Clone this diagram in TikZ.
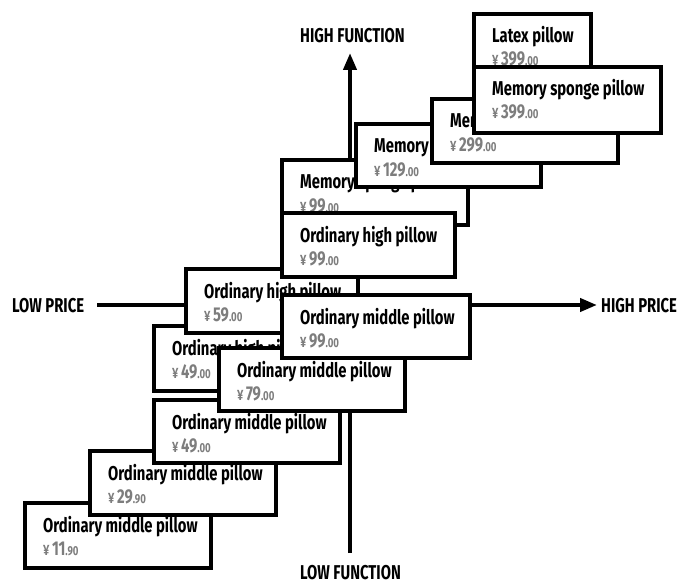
\documentclass[tikz,border=0pt]{standalone}
\usepackage{fontspec}
\usetikzlibrary{arrows.meta}
\newfontfamily\condfont{Fira Sans}[FakeStretch=0.74]
\definecolor{pricegrey}{RGB}{125,125,125}
\tikzset{
  pbox/.style={draw=black, line width=4pt, fill=white, rectangle, inner sep=0pt, outer sep=0pt, anchor=north west},
  ptitle/.style={font=\condfont\bfseries\fontsize{20}{20}\selectfont, text=black, inner sep=0pt, anchor=base west},
  pprice/.style={font=\condfont\bfseries, text=pricegrey, inner sep=0pt, anchor=base west},
  axislabel/.style={font=\condfont\bfseries\fontsize{20}{20}\selectfont, inner sep=0pt, anchor=base west},
  axisline/.style={line width=4pt, -{Triangle[length=17pt,width=13pt]}},
}
% #1 name, #2 left, #3 top, #4 width, #5 height, #6 title, #7 yuan, #8 fen
\newcommand{\pillowcard}[8]{%
  \node[pbox, minimum width={#4pt-4pt}, minimum height={#5pt-4pt}] (#1) at ({#2+2},{#3+2}) {};
  \node[ptitle] (#1-t) at ([xshift=18pt,yshift=-29pt]#1.north west) {#6};
  \node[pprice] (#1-p) at ([xshift=18pt,yshift=-52pt]#1.north west)
    {{\fontsize{15}{15}\selectfont ¥}\hspace{2.5pt}{\fontsize{20}{20}\selectfont #7}{\fontsize{13}{13}\selectfont .#8}};
}
\begin{document}
\begin{tikzpicture}[x=1pt,y=-1pt]
\useasboundingbox (0,0) rectangle (680,583);
% axes
\coordinate (vbot) at (350,553);
\coordinate (vtop) at (350,53);
\coordinate (hleft) at (97,305);
\coordinate (hright) at (597,305);
\draw[axisline] (vbot) -- (vtop);
\draw[axisline] (hleft) -- (hright);
\node[axislabel] (hf) at (300,43) {HIGH FUNCTION};
\node[axislabel] (lf) at (300,579) {LOW FUNCTION};
\node[axislabel] (lp) at (12,312) {LOW PRICE};
\node[axislabel] (hp) at (601,312) {HIGH PRICE};
% cards, back to front
\pillowcard{m11}{23}{501}{190}{69}{Ordinary middle pillow}{11}{90}
\pillowcard{m29}{88}{449}{190}{68}{Ordinary middle pillow}{29}{90}
\pillowcard{m49}{152}{398}{190}{67}{Ordinary middle pillow}{49}{00}
\pillowcard{h49}{152}{324}{176}{69}{Ordinary high pillow}{49}{00}
\pillowcard{m79}{217}{346}{190}{67}{Ordinary middle pillow}{79}{00}
\pillowcard{h59}{184}{267}{176}{68}{Ordinary high pillow}{59}{00}
\pillowcard{m99}{280}{293}{192}{67}{Ordinary middle pillow}{99}{00}
\pillowcard{s99}{280}{158}{190}{69}{Memory sponge pillow}{99}{00}
\pillowcard{h99}{280}{211}{177}{68}{Ordinary high pillow}{99}{00}
\pillowcard{s129}{354}{122}{189}{67}{Memory sponge pillow}{129}{00}
\pillowcard{s299}{430}{97}{190}{68}{Memory sponge pillow}{299}{00}
\pillowcard{lx}{472}{12}{121}{68}{Latex pillow}{399}{00}
\pillowcard{s399}{472}{65}{191}{70}{Memory sponge pillow}{399}{00}
\end{tikzpicture}
\end{document}
